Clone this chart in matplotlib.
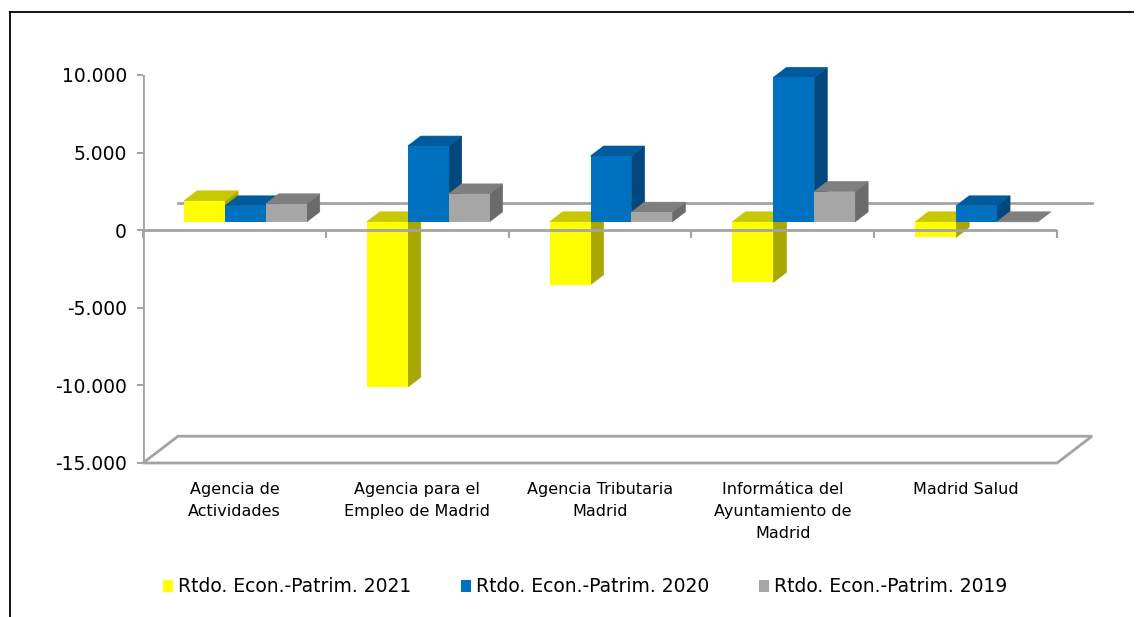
"""Resultado economico-patrimonial por organismo (3D column look)
"""
import matplotlib
matplotlib.use('Agg')
import matplotlib.pyplot as plt
import matplotlib.transforms as mtransforms
from matplotlib.patches import Polygon, Patch
from matplotlib.lines import Line2D

# Data
categories = ['Agencia de\nActividades', 'Agencia para el\nEmpleo de Madrid',
              'Agencia Tributaria\nMadrid', 'Informática del\nAyuntamiento de\nMadrid',
              'Madrid Salud']
series_names = ['Rtdo. Econ.-Patrim. 2021', 'Rtdo. Econ.-Patrim. 2020',
                'Rtdo. Econ.-Patrim. 2019']
vals_2021 = [1350, -10650, -4050, -3900, -1000]
vals_2020 = [1030, 4880, 4240, 9300, 1030]
vals_2019 = [1160, 1800, 620, 1950, 0]
y_ticks = [-15000, -10000, -5000, 0, 5000, 10000]

# Styles: (front, top, side)
face_colors = [('#ffff00', '#c8c800', '#a8a800'),
               ('#0070c0', '#005a9e', '#00487d'),
               ('#a6a6a6', '#7f7f7f', '#6b6b6b')]
axis_gray = '#a3a3a3'

W, H = 1138, 617
fig = plt.figure(figsize=(W / 100, H / 100), dpi=100)
ax = fig.add_axes([143 / W, 1 - 463 / H, 914 / W, 388 / H])
ax.set_xlim(0, len(categories))
ax.set_ylim(y_ticks[0], y_ticks[-1])
for s in ax.spines.values():
    s.set_visible(False)

# pseudo 3D depth (pixels)
D_FRONT, D_BACK, D_FULL = 11, 24, 35
SLOPE = 0.765
ident = mtransforms.IdentityTransform()


def to_px(x, y, d):
    px, py = ax.transData.transform((x, y))
    return (px + d, py + d * SLOPE)


# floor and back-wall zero line
ymin = y_ticks[0]
n = len(categories)
floor = [to_px(0, ymin, 0), to_px(n, ymin, 0), to_px(n, ymin, D_FULL), to_px(0, ymin, D_FULL)]
ax.add_patch(Polygon(floor, closed=True, fill=False, edgecolor=axis_gray, lw=2,
                     transform=ident, zorder=1, clip_on=False))
b0, b1 = to_px(0, 0, D_FULL), to_px(n, 0, D_FULL)
ax.add_line(Line2D([b0[0], b1[0]], [b0[1], b1[1]], color=axis_gray, lw=2,
                   transform=ident, zorder=1, clip_on=False))

# bars
bar_w = 0.2236
series = [vals_2021, vals_2020, vals_2019]
front_trans = mtransforms.offset_copy(ax.transData, fig=fig, x=D_FRONT,
                                      y=D_FRONT * SLOPE, units='dots')
containers = []
for k, vals in enumerate(series):
    xs = [i + 0.5 + (k - 1) * bar_w for i in range(n)]
    bc = ax.bar(xs, vals, width=bar_w, color=face_colors[k][0], linewidth=0,
                transform=front_trans, clip_on=False)
    containers.append(bc)

order = 0
for i in range(n):
    for k, vals in enumerate(series):
        v = vals[i]
        xl = i + 0.5 + (k - 1.5) * bar_w
        xr = xl + bar_w
        lo, hi = min(v, 0), max(v, 0)
        z = 2 + order * 0.01
        front, top_c, side_c = face_colors[k]
        side = [to_px(xr, lo, D_FRONT), to_px(xr, hi, D_FRONT),
                to_px(xr, hi, D_BACK), to_px(xr, lo, D_BACK)]
        top = [to_px(xl, hi, D_FRONT), to_px(xr, hi, D_FRONT),
               to_px(xr, hi, D_BACK), to_px(xl, hi, D_BACK)]
        if hi > lo:
            ax.add_patch(Polygon(side, closed=True, facecolor=side_c, edgecolor=side_c,
                                 lw=0.5, transform=ident, zorder=z, clip_on=False))
        ax.add_patch(Polygon(top, closed=True, facecolor=top_c, edgecolor=top_c,
                             lw=0.5, transform=ident, zorder=z + 0.003, clip_on=False))
        containers[k].patches[i].set_zorder(z + 0.006)
        order += 1

# front axis line at zero with ticks, left axis
ax.axhline(0, color=axis_gray, lw=2, zorder=10)
ax.plot(range(n + 1), [0] * (n + 1), linestyle='none', marker=3, markersize=6,
        markeredgewidth=1.5, color=axis_gray, zorder=10, clip_on=False)
ax.axvline(0, color=axis_gray, lw=2, zorder=10)

ax.set_yticks(y_ticks)
ax.set_yticklabels([f'{t:,}'.replace(',', '.') for t in y_ticks])
ax.tick_params(axis='y', direction='out', length=4.5, width=1.5, color=axis_gray,
               labelsize=13.5, pad=7)
ax.set_xticks([i + 0.5 for i in range(n)])
ax.set_xticklabels(categories, fontsize=11.5, linespacing=1.55)
ax.tick_params(axis='x', length=0, pad=14)

# Legend
handles = [Patch(facecolor=face_colors[k][0], label=series_names[k]) for k in range(3)]
fig.legend(handles=handles, loc='center', bbox_to_anchor=(585 / W, 1 - 587 / H),
           ncol=3, frameon=False, fontsize=13.5, handlelength=0.55, handleheight=0.55,
           handletextpad=0.25, columnspacing=2.65)

# outer border
fig.add_artist(Line2D([10 / W, 1133 / W], [1 - 12 / H, 1 - 12 / H], color='black', lw=1.3))
fig.add_artist(Line2D([10 / W, 10 / W], [1 - 12 / H, 0], color='black', lw=1.3))

plt.savefig('out.png', dpi=100)
